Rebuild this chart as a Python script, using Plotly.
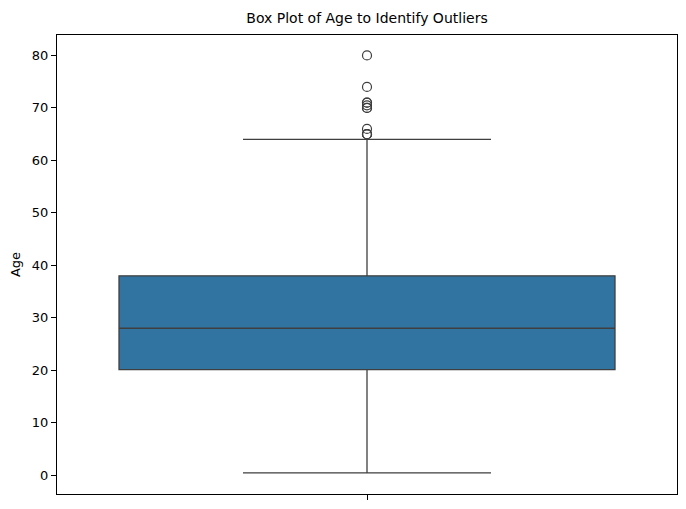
import plotly.graph_objects as go

# Box statistics (Age)
q1 = [20.125]
median = [28.0]
q3 = [38.0]
lower_fence = [0.42]
upper_fence = [64.0]
outliers = [65.0, 65.0, 65.0, 66.0, 70.0, 70.0, 70.5, 71.0, 71.0, 74.0, 80.0]
y_ticks = [0, 10, 20, 30, 40, 50, 60, 70, 80]

fill = "#3274a1"
edge = "#3f3f3f"

W, H = 676, 493

fig = go.Figure()
fig.add_trace(go.Box(
    x=[0], q1=q1, median=median, q3=q3,
    lowerfence=lower_fence, upperfence=upper_fence,
    width=0.8, whiskerwidth=0.5,
    fillcolor=fill, line=dict(color=edge, width=1.3),
    boxpoints=False, showlegend=False, hoverinfo="y",
))
fig.add_trace(go.Scatter(
    x=[0] * len(outliers), y=outliers, mode="markers",
    marker=dict(symbol="circle-open", size=9, color=edge, line=dict(width=1.2, color=edge)),
    showlegend=False,
))

fig.update_layout(
    width=W, height=H,
    margin=dict(l=49, r=7, t=27, b=2),
    paper_bgcolor="white", plot_bgcolor="white",
    font=dict(family="DejaVu Sans", size=13, color="#000000"),
    title=dict(text="Box Plot of Age to Identify Outliers", x=(367 - 8) / W, xanchor="center",
               y=1 - 10 / H, yanchor="middle", yref="container",
               font=dict(family="DejaVu Sans", size=14, color="#000000")),
)
fig.update_xaxes(
    range=[-0.5, 0.5], tickvals=[0], ticktext=[""], ticks="outside", ticklen=5,
    tickcolor="black", showline=True, linecolor="black", linewidth=1, mirror=True,
    showgrid=False, zeroline=False,
)
fig.update_yaxes(
    range=[-3.6, 83.9], tickvals=y_ticks, ticks="outside", ticklen=5,
    tickcolor="black", showline=True, linecolor="black", linewidth=1, mirror=True,
    showgrid=False, zeroline=False, tickfont=dict(size=13),
    title=dict(text="Age", font=dict(size=13), standoff=10),
)

fig.write_html("out.html")
